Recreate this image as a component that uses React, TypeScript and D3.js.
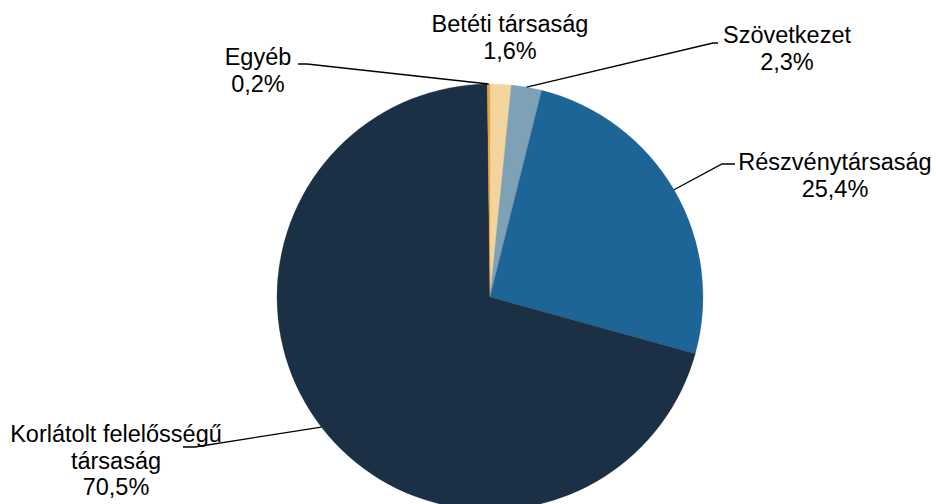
import React from "react";
import * as d3 from "d3";

const categories = [
  "Betéti társaság",
  "Szövetkezet",
  "Részvénytársaság",
  "Korlátolt felelősségű társaság",
  "Egyéb",
];
const values = [1.6, 2.3, 25.4, 70.5, 0.2];
const colors = ["#f2d49c", "#7fa1b5", "#1d6596", "#1b3045", "#e8a33d"];
const labelLines: string[][] = [
  ["Betéti társaság", "1,6%"],
  ["Szövetkezet", "2,3%"],
  ["Részvénytársaság", "25,4%"],
  ["Korlátolt felelősségű", "társaság", "70,5%"],
  ["Egyéb", "0,2%"],
];

// layout (label anchor: center x, first baseline y) and leader elbow points
const labelPos = [
  { x: 510, y: 32 },
  { x: 787, y: 43 },
  { x: 835, y: 170 },
  { x: 116, y: 442 },
  { x: 258, y: 65 },
];
const leaderElbows: ([number, number][] | null)[] = [
  null,
  [[713, 43], [718, 43]],
  [[722, 164], [735, 164]],
  [[195, 447], [183, 447]],
  [[307, 64], [298, 64]],
];

const W = 936;
const H = 504;
const cx = 490;
const cy = 297;
const R = 213;
const FONT = 23.5;
const LINE = 26.5;

export default function App() {
  const pie = d3
    .pie<number>()
    .sort(null)
    .value((d) => d)
    .startAngle(0)
    .endAngle(2 * Math.PI);
  const arcs = pie(values);
  const arc = d3.arc<d3.PieArcDatum<number>>().innerRadius(0).outerRadius(R);
  const line = d3.line();

  return (
    <svg
      width={W}
      height={H}
      style={{ position: "absolute", left: 0, top: 0, background: "#fff" }}
      fontFamily="'Liberation Sans', Arial, sans-serif"
    >
      <g transform={`translate(${cx},${cy})`}>
        {arcs.map((a, i) => (
          <path
            key={categories[i]}
            d={arc(a) || ""}
            fill={colors[i]}
            stroke={colors[i]}
            strokeWidth={0.3}
          />
        ))}
      </g>
      {arcs.map((a, i) => {
        const el = leaderElbows[i];
        if (!el) return null;
        const mid = (a.startAngle + a.endAngle) / 2;
        const p0: [number, number] = [cx + R * Math.sin(mid), cy - R * Math.cos(mid)];
        return (
          <path
            key={"l" + i}
            d={line([p0, ...el]) || ""}
            fill="none"
            stroke="#000"
            strokeWidth={1.3}
          />
        );
      })}
      {labelLines.map((lines, i) => (
        <text
          key={"t" + i}
          textAnchor="middle"
          fontSize={FONT}
          fill="#000"
        >
          {lines.map((s, j) => (
            <tspan key={j} x={labelPos[i].x} y={labelPos[i].y + j * LINE}>
              {s}
            </tspan>
          ))}
        </text>
      ))}
    </svg>
  );
}
